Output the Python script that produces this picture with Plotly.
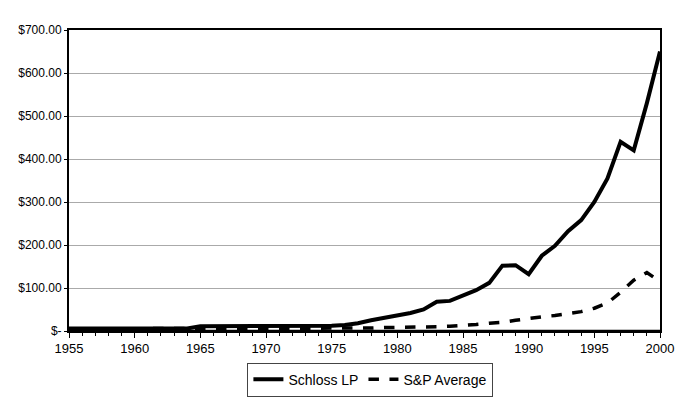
import plotly.graph_objects as go

years = list(range(1955, 2001))
schloss = [6, 6, 6, 6, 6, 6, 6, 6, 6, 6,
           11, 11, 11, 11, 11, 11, 11, 12, 12, 12,
           12, 14, 18, 25, 30, 35, 42, 50, 68, 70,
           82, 95, 112, 152, 153, 132, 175, 198, 232, 258,
           300, 355, 440, 420, 530, 650]
sp = [5, 5, 5, 5, 5, 5, 5, 5, 5, 5,
      5, 5, 5, 5, 5, 5, 5, 5, 5, 5,
      5, 6, 7, 7, 8, 8, 9, 9, 10, 11,
      12, 15, 18, 20, 25, 30, 33, 36, 40, 45,
      53, 65, 90, 118, 136, 115]
y_ticks = [0, 100, 200, 300, 400, 500, 600, 700]
y_labels = ["$-", "$100.00", "$200.00", "$300.00", "$400.00", "$500.00", "$600.00", "$700.00"]

fig = go.Figure()
fig.add_trace(go.Scatter(x=years, y=schloss, mode="lines", name="Schloss LP",
                         line=dict(color="black", width=4)))
fig.add_trace(go.Scatter(x=years, y=sp, mode="lines", name="S&P Average",
                         line=dict(color="black", width=3.5, dash="dash")))

fig.update_layout(
    width=678, height=391,
    margin=dict(l=61, r=26, t=22, b=68, autoexpand=False),
    paper_bgcolor="white", plot_bgcolor="white",
    font=dict(family="Liberation Sans, Arial, sans-serif", size=12, color="black"),
    showlegend=True,
    legend=dict(orientation="h", x=0.51, xanchor="center", y=-0.105, yanchor="top",
                bordercolor="#444444", borderwidth=1, font=dict(size=14),
                itemwidth=30, tracegroupgap=0),
    xaxis=dict(range=[1955, 2000], tickmode="linear", tick0=1955, dtick=5,
               showgrid=False, zeroline=False, showline=True, linecolor="black",
               linewidth=1.5, mirror=True, ticks="outside", ticklen=5, tickcolor="black",
               tickfont=dict(size=13), automargin=False,
               minor=dict(ticks="outside", dtick=1, ticklen=3, tickcolor="black", showgrid=False)),
    yaxis=dict(range=[0, 700], tickvals=y_ticks, ticktext=y_labels,
               showgrid=True, gridcolor="#aaaaaa", gridwidth=1, zeroline=False,
               showline=True, linecolor="black", linewidth=2, mirror=True, automargin=False,
               ticks="outside", ticklen=3, tickcolor="black"),
)
fig.add_shape(type="line", xref="paper", yref="paper", x0=0, x1=1, y0=0, y1=0,
              line=dict(color="black", width=2.5))
fig.write_html("out.html")
